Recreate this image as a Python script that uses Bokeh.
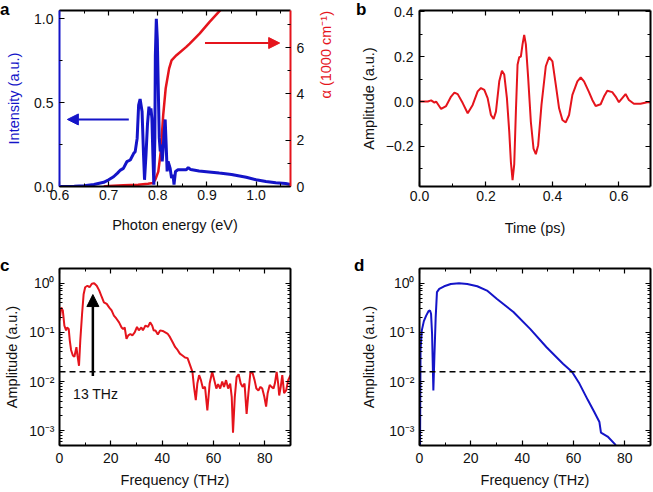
import math
from bokeh.plotting import figure
from bokeh.models import (Range1d, LinearAxis, LogAxis, SingleIntervalTicker, FixedTicker,
                          CustomJSTickFormatter, Span, Arrow, NormalHead, Label, GridBox, Div)
from bokeh.embed import file_html
from bokeh.resources import INLINE

# ---------------- data ----------------
# (a) emission spectrum (blue, left axis) and absorption alpha (red, right axis)
energy_blue = [0.600, 0.630, 0.650, 0.670, 0.690, 0.700, 0.710, 0.718, 0.724, 0.730,
               0.737, 0.744, 0.751, 0.754, 0.758, 0.761, 0.764, 0.768, 0.771, 0.773,
               0.776, 0.779, 0.782, 0.784, 0.786, 0.788, 0.790, 0.792, 0.794, 0.795,
               0.797, 0.799, 0.801, 0.803, 0.805, 0.807, 0.809, 0.811, 0.813, 0.815,
               0.817, 0.819, 0.821, 0.825, 0.828, 0.831, 0.833, 0.836, 0.841, 0.851,
               0.858, 0.862, 0.867, 0.884, 0.904, 0.925, 0.950, 0.980, 1.000, 1.020,
               1.040, 1.060, 1.070]
intensity = [0.000, 0.002, 0.005, 0.012, 0.025, 0.040, 0.058, 0.080, 0.098, 0.108,
             0.148, 0.158, 0.198, 0.208, 0.287, 0.486, 0.522, 0.447, 0.188, 0.040,
             0.190, 0.370, 0.476, 0.427, 0.466, 0.407, 0.190, 0.010, 0.288, 0.780,
             1.000, 0.880, 0.580, 0.290, 0.210, 0.250, 0.150, 0.230, 0.330, 0.400,
             0.250, 0.090, 0.150, 0.110, 0.050, 0.070, 0.012, 0.090, 0.100, 0.100,
             0.100, 0.113, 0.101, 0.093, 0.087, 0.080, 0.072, 0.055, 0.040, 0.030,
             0.022, 0.018, 0.012]
energy_red = [0.690, 0.700, 0.730, 0.760, 0.780, 0.790, 0.795, 0.801, 0.806, 0.811,
              0.816, 0.823, 0.828, 0.838, 0.858, 0.865, 0.885, 0.905, 0.925, 0.935]
alpha_k = [0.00, 0.02, 0.05, 0.08, 0.12, 0.15, 0.30, 0.64, 1.50, 3.08,
           4.23, 5.09, 5.45, 5.67, 6.03, 6.17, 6.60, 7.10, 7.56, 7.80]

# (b) THz waveform
time_ps = [0.000, 0.025, 0.035, 0.045, 0.050, 0.065, 0.080, 0.095, 0.105, 0.115,
           0.130, 0.145, 0.160, 0.175, 0.185, 0.195, 0.205, 0.215, 0.223, 0.230,
           0.240, 0.248, 0.255, 0.263, 0.270, 0.275, 0.280, 0.285, 0.290, 0.295,
           0.300, 0.305, 0.310, 0.315, 0.320, 0.327, 0.335, 0.343, 0.350, 0.357,
           0.367, 0.380, 0.390, 0.400, 0.410, 0.420, 0.430, 0.440, 0.450, 0.460,
           0.475, 0.485, 0.495, 0.510, 0.520, 0.530, 0.545, 0.555, 0.565, 0.580,
           0.590, 0.600, 0.610, 0.620, 0.630, 0.645, 0.665, 0.685, 0.695]
amp_b = [0.000, 0.000, 0.005, -0.005, 0.000, -0.033, -0.020, 0.022, 0.040, 0.033,
         -0.007, -0.052, -0.015, 0.045, 0.060, 0.052, 0.015, -0.060, -0.078, -0.045,
         0.090, 0.137, 0.120, 0.015, -0.134, -0.270, -0.350, -0.280, -0.045, 0.164,
         0.197, 0.200, 0.254, 0.296, 0.254, 0.104, -0.090, -0.209, -0.234, -0.194,
         -0.015, 0.157, 0.198, 0.179, 0.075, -0.030, -0.082, -0.093, -0.060, 0.030,
         0.090, 0.107, 0.090, 0.042, 0.007, -0.020, -0.012, 0.022, 0.048, 0.042,
         0.022, -0.003, 0.015, 0.033, 0.007, -0.010, -0.010, -0.003, -0.003]

# (c) measured spectrum
freq_c = [0.0, 0.67, 1.29, 1.9, 2.57, 2.95, 3.6, 4.0, 4.5, 5.2,
          5.8, 6.6, 7.0, 7.6, 8.1, 8.8, 9.4, 10.0, 10.9, 11.7,
          12.6, 13.5, 14.5, 15.5, 16.5, 17.3, 18.4, 19.4, 20.3, 21.2,
          22.2, 23.2, 24.2, 24.8, 25.4, 26.1, 26.8, 27.6, 28.4, 29.3,
          30.2, 30.9, 31.9, 32.5, 33.5, 34.5, 35.3, 36.1, 36.7, 37.4,
          38.3, 39.2, 40.2, 41.2, 42.2, 43.0, 44.1, 45.1, 46.0, 46.9,
          47.9, 48.9, 49.9, 50.7,
          51.8, 52.4, 53.1, 53.7, 54.4, 55.1, 55.9, 56.7, 57.6, 58.5,
          59.5, 60.3, 61.1, 61.8, 62.6, 63.4, 64.1, 64.9, 65.7, 66.5,
          67.1, 67.6, 68.3, 69.0, 69.8, 70.6, 71.3, 72.1, 72.9, 73.6,
          74.4, 75.2, 76.0, 76.7, 77.5, 78.3, 79.0, 79.8, 80.5, 81.1,
          81.9, 82.6, 83.4, 83.9, 84.6, 85.2, 85.6, 86.2, 86.8, 87.5,
          88.3, 89.1, 90.0]
amp_c = [0.175, 0.32, 0.28, 0.138, 0.11, 0.126, 0.117, 0.069, 0.044, 0.034,
         0.032, 0.05, 0.034, 0.021, 0.069, 0.24, 0.6, 0.83, 0.89, 0.83,
         0.98, 1.0, 0.89, 0.71, 0.52, 0.41, 0.38, 0.32, 0.28, 0.22,
         0.19, 0.16, 0.126, 0.117, 0.126, 0.074, 0.087, 0.093, 0.087, 0.10,
         0.13, 0.11, 0.126, 0.11, 0.138, 0.13, 0.16, 0.138, 0.11, 0.11,
         0.091, 0.11, 0.107, 0.10, 0.093, 0.081, 0.063, 0.05, 0.044, 0.037,
         0.034, 0.031, 0.03, 0.023,
         0.0158, 0.0078, 0.0042, 0.0091, 0.0135, 0.0107, 0.0072, 0.0078, 0.0026, 0.0091,
         0.0158, 0.0107, 0.0072, 0.0089, 0.0072, 0.0100, 0.0078, 0.0107, 0.0072, 0.0091,
         0.0049, 0.00091, 0.0049, 0.0123, 0.0141, 0.0091, 0.0078, 0.0091, 0.0022, 0.0058,
         0.0158, 0.0151, 0.0107, 0.0072, 0.0066, 0.0078, 0.0072, 0.0049, 0.0031, 0.0058,
         0.0085, 0.0078, 0.0072, 0.0091, 0.0158, 0.0091, 0.0052, 0.0078, 0.0135, 0.0058,
         0.0066, 0.0107, 0.0135]

# (d) calculated spectrum
freq_d = [0.2, 0.4, 0.9, 1.7, 2.6, 3.5, 4.1, 4.5, 4.9, 5.1,
          5.4, 5.8, 6.3, 6.8, 7.7, 9.6, 12.2, 15.4, 18.6, 22.5,
          26.3, 30.2, 36.6, 43.1, 49.5, 55.9, 59.4, 62.3, 65.6, 68.1,
          70.1, 70.7, 73.3, 76.5]
amp_d = [0.0003, 0.044, 0.11, 0.17, 0.22, 0.27, 0.28, 0.24, 0.093, 0.032,
         0.0066, 0.032, 0.2, 0.66, 0.77, 0.87, 0.97, 1.0, 0.97, 0.87,
         0.71, 0.48, 0.26, 0.118, 0.05, 0.023, 0.0158, 0.0091, 0.0042, 0.0024,
         0.0015, 0.00091, 0.00076, 0.00051]

noise_level = 0.0158          # dashed line in c and d
peak_freq = 13                # arrow in c
peak_arrow_y = [0.013, 0.59]
blue_arrow = (0.741, 0.616, 0.40)   # x_start, x_end, y  (panel a, left units)
red_arrow = (0.896, 1.048, 0.856)
panel_letters = ["a", "b", "c", "d"]

# ---------------- style ----------------
FONT = "Liberation Sans"
RED = "#e5141c"
BLUE = "#1414c8"

fmt1 = CustomJSTickFormatter(code="return (tick < -1e-9 ? '\u2212' : '') + Math.abs(tick).toFixed(1);")
fmt0 = CustomJSTickFormatter(code="return tick.toFixed(0);")
fmtlog = CustomJSTickFormatter(code="""
const e = Math.round(Math.log10(tick));
const m = {'-':'\u207b','0':'\u2070','1':'\u00b9','2':'\u00b2','3':'\u00b3','4':'\u2074'};
return '10' + String(e).split('').map(c => m[c]).join('');
""")
fmt_none = CustomJSTickFormatter(code="return '';")
log_ticker = FixedTicker(ticks=[1e-3, 1e-2, 1e-1, 1.0],
                         minor_ticks=[m * 10.0 ** e for e in range(-4, 1) for m in range(2, 10)])


def style_axis(ax, color="black", show=True, std=6, lstd=6):
    ax.axis_line_color = color
    ax.axis_line_width = 2
    ax.major_tick_in = 5
    ax.major_tick_out = 0
    ax.minor_tick_in = 3
    ax.minor_tick_out = 0
    ax.major_tick_line_color = "black"
    ax.minor_tick_line_color = "black"
    ax.major_tick_line_width = 1.2
    ax.minor_tick_line_width = 1
    ax.major_label_text_font = FONT
    ax.major_label_text_font_size = "14px"
    ax.major_label_text_color = "#111111"
    ax.major_label_standoff = std
    ax.axis_label_text_font = FONT
    ax.axis_label_text_font_size = "14.5px"
    ax.axis_label_text_font_style = "normal"
    ax.axis_label_text_color = "#111111"
    ax.axis_label_standoff = lstd
    if not show:
        ax.formatter = fmt_none
        ax.major_label_text_font_size = "0px"
        ax.major_label_standoff = 0
        ax.axis_label = None


def make_fig(w, h, xr, yr, left, right, top, bottom, ylog=False):
    p = figure(width=w, height=h, x_range=xr, y_range=yr,
               y_axis_type="log" if ylog else "linear",
               output_backend="svg", toolbar_location=None,
               min_border_left=left, min_border_right=right,
               min_border_top=top, min_border_bottom=bottom)
    p.xgrid.visible = False
    p.ygrid.visible = False
    p.outline_line_color = None
    p.background_fill_color = "white"
    p.border_fill_color = "white"
    return p


def letter_div(txt, top, left):
    return Div(text=txt, width=16, height=20, margin=(top, 0, 0, left),
               styles={"font-family": FONT, "font-size": "17px", "font-weight": "bold",
                       "line-height": "17px", "color": "black"})


# ---------------- panel a ----------------
pa = make_fig(345, 238, Range1d(0.6, 1.07), Range1d(0, 1.05), 59, 55, 10, 52)
pa.extra_y_ranges = {"alpha": Range1d(0, 7.6)}
tk_ax = SingleIntervalTicker(interval=0.1, num_minor_ticks=2)
tk_ay = SingleIntervalTicker(interval=0.5, num_minor_ticks=2)
tk_ar = SingleIntervalTicker(interval=2, num_minor_ticks=2)
pa.xaxis.ticker = tk_ax
pa.xaxis.formatter = fmt1
pa.xaxis.axis_label = "Photon energy (eV)"
pa.yaxis.ticker = tk_ay
pa.yaxis.formatter = fmt1
pa.yaxis.axis_label = "Intensity (a.u.)"
style_axis(pa.xaxis[0], std=3, lstd=14)
style_axis(pa.yaxis[0], color=BLUE, lstd=9)
pa.yaxis[0].axis_label_text_color = BLUE
ra = LinearAxis(y_range_name="alpha", ticker=tk_ar, formatter=fmt0,
                axis_label="\u03b1 (1000 cm\u207b\u00b9)")
style_axis(ra, color=RED, lstd=19)
ra.axis_label_text_color = RED
ra.axis_label_orientation = math.pi / 2
pa.add_layout(ra, "right")
ta = LinearAxis(ticker=tk_ax)
style_axis(ta, show=False)
pa.add_layout(ta, "above")

pa.line(energy_red, alpha_k, y_range_name="alpha", line_color=RED, line_width=2.5)
pa.line(energy_blue, intensity, line_color=BLUE, line_width=3)
pa.add_layout(Arrow(end=NormalHead(size=11, fill_color=BLUE, line_color=BLUE),
                    x_start=blue_arrow[0], y_start=blue_arrow[2],
                    x_end=blue_arrow[1], y_end=blue_arrow[2],
                    line_color=BLUE, line_width=2))
pa.add_layout(Arrow(end=NormalHead(size=11, fill_color=RED, line_color=RED),
                    x_start=red_arrow[0], y_start=red_arrow[2],
                    x_end=red_arrow[1], y_end=red_arrow[2],
                    line_color=RED, line_width=2))

# ---------------- panel b ----------------
pb = make_fig(308, 238, Range1d(0, 0.695), Range1d(-0.378, 0.405), 74, 3, 10, 52)
tk_bx = SingleIntervalTicker(interval=0.2, num_minor_ticks=2)
tk_by = SingleIntervalTicker(interval=0.2, num_minor_ticks=2)
pb.xaxis.ticker = tk_bx
pb.xaxis.formatter = fmt1
pb.xaxis.axis_label = "Time (ps)"
pb.yaxis.ticker = tk_by
pb.yaxis.formatter = fmt1
pb.yaxis.axis_label = "Amplitude (a.u.)"
style_axis(pb.xaxis[0], std=4, lstd=16)
style_axis(pb.yaxis[0], lstd=6)
tb = LinearAxis(ticker=tk_bx)
style_axis(tb, show=False)
pb.add_layout(tb, "above")
rb = LinearAxis(ticker=tk_by)
style_axis(rb, show=False)
pb.add_layout(rb, "right")
pb.line(time_ps, amp_b, line_color=RED, line_width=2)

# ---------------- panel c ----------------
pc = make_fig(345, 254, Range1d(0, 90), Range1d(5e-4, 2.0), 59, 53, 30, 47, ylog=True)
tk_cx = SingleIntervalTicker(interval=20, num_minor_ticks=2)
pc.xaxis.ticker = tk_cx
pc.xaxis.axis_label = "Frequency (THz)"
pc.yaxis.ticker = log_ticker
pc.yaxis.formatter = fmtlog
pc.yaxis.axis_label = "Amplitude (a.u.)"
style_axis(pc.xaxis[0], std=7, lstd=6)
style_axis(pc.yaxis[0], std=5, lstd=6)
tc = LinearAxis(ticker=tk_cx)
style_axis(tc, show=False)
pc.add_layout(tc, "above")
rc = LogAxis(ticker=log_ticker)
style_axis(rc, show=False)
pc.add_layout(rc, "right")
pc.add_layout(Span(location=noise_level, dimension="width", line_color="black",
                   line_width=1.6, line_dash="6 4"))
pc.line(freq_c, amp_c, line_color=RED, line_width=2)
pc.add_layout(Arrow(end=NormalHead(size=12, fill_color="black", line_color="black"),
                    x_start=peak_freq, y_start=peak_arrow_y[0],
                    x_end=peak_freq, y_end=peak_arrow_y[1],
                    line_color="black", line_width=2.5))
pc.add_layout(Label(x=5.3, y=0.0056, text="13 THz", text_font=FONT,
                    text_font_size="14px", text_baseline="middle", text_color="#111111"))

# ---------------- panel d ----------------
pd_ = make_fig(308, 254, Range1d(0, 90), Range1d(5e-4, 2.0), 74, 2, 30, 47, ylog=True)
tk_dx = SingleIntervalTicker(interval=20, num_minor_ticks=2)
pd_.xaxis.ticker = tk_dx
pd_.xaxis.axis_label = "Frequency (THz)"
pd_.yaxis.ticker = log_ticker
pd_.yaxis.formatter = fmtlog
pd_.yaxis.axis_label = "Amplitude (a.u.)"
style_axis(pd_.xaxis[0], std=7, lstd=6)
style_axis(pd_.yaxis[0], std=5, lstd=9)
td = LinearAxis(ticker=tk_dx)
style_axis(td, show=False)
pd_.add_layout(td, "above")
rd = LogAxis(ticker=log_ticker)
style_axis(rd, show=False)
pd_.add_layout(rd, "right")
pd_.add_layout(Span(location=noise_level, dimension="width", line_color="black",
                    line_width=1.6, line_dash="6 4"))
pd_.line(freq_d, amp_d, line_color=BLUE, line_width=2)

# ---------------- layout (letters overlaid in the same grid cells) ----------------
grid = GridBox(children=[
    (pa, 0, 0), (pb, 0, 1), (pc, 1, 0), (pd_, 1, 1),
    (letter_div(panel_letters[0], 1, 0), 0, 0),
    (letter_div(panel_letters[1], 1, 11), 0, 1),
    (letter_div(panel_letters[2], 19, 0), 1, 0),
    (letter_div(panel_letters[3], 19, 9), 1, 1),
], spacing=0)

open("out.html", "w").write(file_html(grid, INLINE))
